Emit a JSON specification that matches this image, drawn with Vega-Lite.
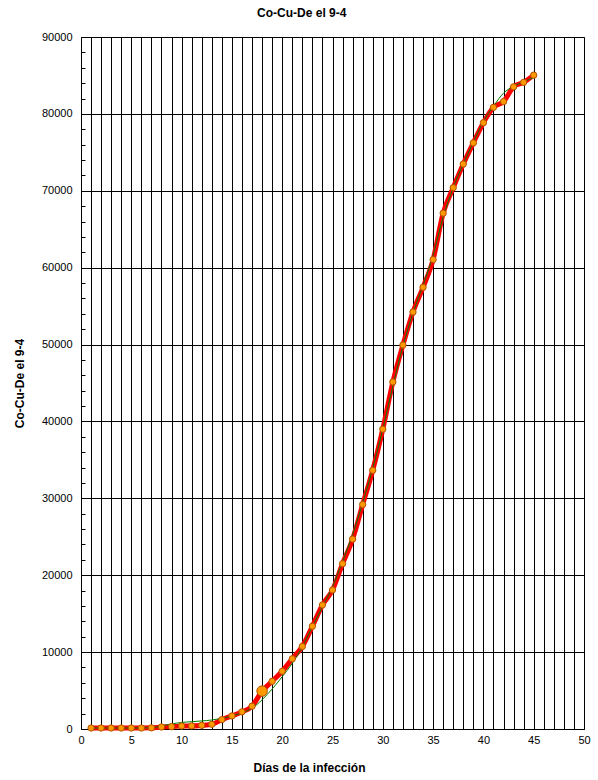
{
  "$schema": "https://vega.github.io/schema/vega-lite/v6.json",
  "width": 503,
  "height": 692,
  "autosize": {"type": "none"},
  "padding": {"left": 81, "top": 37, "right": 14, "bottom": 51},
  "background": "white",
  "title": {
    "text": "Co-Cu-De  el 9-4",
    "font": "Liberation Sans",
    "fontSize": 12,
    "fontWeight": "bold",
    "color": "black",
    "anchor": "middle",
    "frame": "bounds",
    "offset": 11
  },
  "config": {
    "view": {"stroke": "#808080", "strokeWidth": 1},
    "axis": {
      "labelFont": "Liberation Sans",
      "labelFontSize": 11,
      "labelColor": "black",
      "titleFont": "Liberation Sans",
      "titleFontSize": 12,
      "titleFontWeight": "bold",
      "titleColor": "black",
      "domainColor": "black",
      "gridColor": "black",
      "gridOpacity": 1,
      "tickColor": "black",
      "labelOverlap": false
    }
  },
  "data": {
    "values": [
      {"day": 1, "value": 130, "trend": 130},
      {"day": 2, "value": 130, "trend": 130},
      {"day": 3, "value": 130, "trend": 130},
      {"day": 4, "value": 130, "trend": 130},
      {"day": 5, "value": 130, "trend": 130},
      {"day": 6, "value": 130, "trend": 140},
      {"day": 7, "value": 150, "trend": 160},
      {"day": 8, "value": 260, "trend": 400},
      {"day": 9, "value": 300, "trend": 650},
      {"day": 10, "value": 390, "trend": 850},
      {"day": 11, "value": 400, "trend": 950},
      {"day": 12, "value": 480, "trend": 1050},
      {"day": 13, "value": 610, "trend": 1170},
      {"day": 14, "value": 1220, "trend": 1400},
      {"day": 15, "value": 1700, "trend": 1690},
      {"day": 16, "value": 2230, "trend": 2100},
      {"day": 17, "value": 2970, "trend": 2690},
      {"day": 18, "value": 4930, "trend": 3800},
      {"day": 19, "value": 6200, "trend": 5200},
      {"day": 20, "value": 7510, "trend": 6800},
      {"day": 21, "value": 9130, "trend": 8540},
      {"day": 22, "value": 10740, "trend": 10700},
      {"day": 23, "value": 13360, "trend": 13300},
      {"day": 24, "value": 16130, "trend": 15900},
      {"day": 25, "value": 18080, "trend": 18500},
      {"day": 26, "value": 21500, "trend": 21800},
      {"day": 27, "value": 24700, "trend": 25300},
      {"day": 28, "value": 29200, "trend": 29400},
      {"day": 29, "value": 33650, "trend": 33900},
      {"day": 30, "value": 39000, "trend": 39000},
      {"day": 31, "value": 45130, "trend": 44600},
      {"day": 32, "value": 49940, "trend": 49800},
      {"day": 33, "value": 54230, "trend": 54100},
      {"day": 34, "value": 57450, "trend": 57700},
      {"day": 35, "value": 61050, "trend": 61600},
      {"day": 36, "value": 67090, "trend": 66600},
      {"day": 37, "value": 70400, "trend": 70400},
      {"day": 38, "value": 73480, "trend": 73500},
      {"day": 39, "value": 76230, "trend": 76300},
      {"day": 40, "value": 78850, "trend": 79000},
      {"day": 41, "value": 80850, "trend": 81000},
      {"day": 42, "value": 81600, "trend": 82700},
      {"day": 43, "value": 83520, "trend": 83600},
      {"day": 44, "value": 84100, "trend": 84200},
      {"day": 45, "value": 85040, "trend": 84700}
    ]
  },
  "encoding": {
    "x": {
      "field": "day",
      "type": "quantitative",
      "scale": {"domain": [0, 50], "nice": false},
      "axis": {
        "title": "Días de la infección",
        "titleX": 228,
        "titlePadding": 17,
        "values": [0,1,2,3,4,5,6,7,8,9,10,11,12,13,14,15,16,17,18,19,20,21,22,23,24,25,26,27,28,29,30,31,32,33,34,35,36,37,38,39,40,41,42,43,44,45,46,47,48,49,50],
        "labelExpr": "datum.value % 5 === 0 ? datum.label : ''",
        "ticks": false,
        "labelPadding": 5,
        "grid": true,
        "labelFlush": false
      }
    },
    "y": {
      "field": "value",
      "type": "quantitative",
      "scale": {"domain": [0, 90000], "nice": false},
      "axis": {
        "title": "Co-Cu-De  el 9-4",
        "titlePadding": 15,
        "values": [0,2000,4000,6000,8000,10000,12000,14000,16000,18000,20000,22000,24000,26000,28000,30000,32000,34000,36000,38000,40000,42000,44000,46000,48000,50000,52000,54000,56000,58000,60000,62000,64000,66000,68000,70000,72000,74000,76000,78000,80000,82000,84000,86000,88000,90000],
        "labelExpr": "datum.value % 10000 === 0 ? datum.value + '' : ''",
        "grid": true,
        "gridOpacity": {"condition": {"test": "datum.value % 10000 === 0", "value": 1}, "value": 0},
        "tickSize": {"condition": {"test": "datum.value % 10000 === 0", "value": 0}, "value": -4},
        "labelPadding": 9,
        "labelFlush": false
      }
    }
  },
  "layer": [
    {
      "mark": {"type": "line", "color": "#FF0000", "strokeWidth": 5, "interpolate": "monotone"}
    },
    {
      "mark": {"type": "line", "color": "#008000", "strokeWidth": 1, "interpolate": "monotone"},
      "encoding": {
        "y": {
          "field": "trend",
          "type": "quantitative",
          "scale": {"domain": [0, 90000], "nice": false},
          "axis": {
            "title": "Co-Cu-De  el 9-4",
            "titlePadding": 15,
            "values": [0,2000,4000,6000,8000,10000,12000,14000,16000,18000,20000,22000,24000,26000,28000,30000,32000,34000,36000,38000,40000,42000,44000,46000,48000,50000,52000,54000,56000,58000,60000,62000,64000,66000,68000,70000,72000,74000,76000,78000,80000,82000,84000,86000,88000,90000],
            "labelExpr": "datum.value % 10000 === 0 ? datum.value + '' : ''",
            "grid": true,
            "gridOpacity": {"condition": {"test": "datum.value % 10000 === 0", "value": 1}, "value": 0},
            "tickSize": {"condition": {"test": "datum.value % 10000 === 0", "value": 0}, "value": -4},
            "labelPadding": 9,
            "labelFlush": false
          }
        }
      }
    },
    {
      "mark": {"type": "point", "filled": true, "fill": "#FF9900", "stroke": "#B05000", "strokeWidth": 1, "opacity": 1},
      "encoding": {
        "size": {"condition": {"test": "datum.day === 18", "value": 110}, "value": 40}
      }
    }
  ]
}
